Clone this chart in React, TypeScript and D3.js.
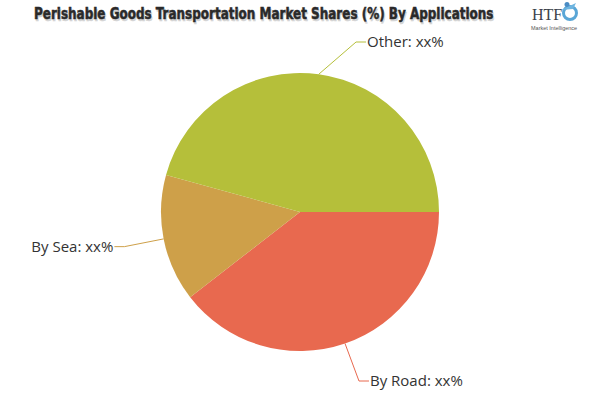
import React, { useLayoutEffect, useRef, useState } from "react";
import * as d3 from "d3";

const categories = ["By Road", "By Sea", "Other"];
const values = [39.5, 14.8, 45.7];
const labelTexts = ["By Road: xx%", "By Sea: xx%", "Other: xx%"];
const colors = ["#e8694f", "#cea049", "#b5bf3a"];
const title = "Perishable Goods Transportation Market Shares (%) By Applications";

const W = 600;
const H = 400;
const cx = 300;
const cy = 212;
const R = 139;
const labelR = R + 40;
const titleX = 34;
const titleWidth = 459;

export default function App() {
  const titleRef = useRef<SVGTextElement>(null);
  const [sx, setSx] = useState(0.8);

  useLayoutEffect(() => {
    if (titleRef.current) {
      const len = titleRef.current.getComputedTextLength();
      if (len > 0) setSx(titleWidth / len);
    }
  }, []);

  const pie = d3
    .pie<number>()
    .sort(null)
    .startAngle(Math.PI / 2)
    .endAngle(Math.PI / 2 + 2 * Math.PI)
    .value((d) => d);
  const arcs = pie(values);
  const arc = d3.arc<d3.PieArcDatum<number>>().innerRadius(0).outerRadius(R);

  return (
    <svg width={W} height={H} style={{ position: "absolute", left: 0, top: 0, background: "#fff" }}>
      <rect x={0} y={0} width={W} height={H} fill="#fff" />
      {/* title with soft shadow */}
      <g fontFamily="'DejaVu Sans Condensed', 'DejaVu Sans', sans-serif" fontWeight="bold" fontSize={16}>
        <text
          x={0}
          y={0}
          transform={`translate(${titleX + 1},20.5) scale(${sx},1)`}
          fill="#d4d4d4"
          stroke="#d4d4d4"
          strokeWidth={0.5}
          aria-hidden="true"
        >
          {title}
        </text>
        <text
          ref={titleRef}
          x={0}
          y={0}
          transform={`translate(${titleX},19) scale(${sx},1)`}
          fill="#2a2a2a"
          stroke="#2a2a2a"
          strokeWidth={0.5}
        >
          {title}
        </text>
      </g>
      {/* logo */}
      <g>
        <circle cx={570} cy={13} r={6.5} fill="none" stroke="#5aa6d6" strokeWidth={3} />
        <circle cx={567} cy={4.5} r={2.5} fill="#4a8cc4" />
        <path d="M561,10 L576,3 L573,9 Z" fill="#6fb5e0" />
        <text x={532} y={20} fontFamily="'Liberation Serif', serif" fontSize={16} fill="#3a3f4a">
          HTF
        </text>
        <text x={531} y={30} fontFamily="'Liberation Sans', sans-serif" fontSize={5.5} fill="#555">
          Market Intelligence
        </text>
      </g>
      {/* slices */}
      <g transform={`translate(${cx},${cy})`}>
        {arcs.map((a, i) => (
          <path key={categories[i]} d={arc(a) || ""} fill={colors[i]} />
        ))}
      </g>
      {/* labels */}
      {arcs.map((a, i) => {
        const mid = (a.startAngle + a.endAngle) / 2;
        const px = cx + R * Math.sin(mid);
        const py = cy - R * Math.cos(mid);
        let ey = cy - labelR * Math.cos(mid);
        ey = Math.max(42, Math.min(H - 19, ey));
        const side = Math.sin(mid) >= 0 ? 1 : -1;
        const dy = ey - cy;
        const ex = cx + side * Math.sqrt(Math.max(0, labelR * labelR - dy * dy));
        const hx = ex + side * 10;
        return (
          <g key={"lab" + i}>
            <polyline
              points={`${px},${py} ${ex},${ey} ${hx},${ey}`}
              fill="none"
              stroke={colors[i]}
              strokeWidth={1}
            />
            <text
              x={hx + side * 1}
              y={ey}
              dy="0.35em"
              textAnchor={side > 0 ? "start" : "end"}
              fontFamily="'Open Sans', sans-serif"
              fontSize={15}
              fill="#333"
            >
              {labelTexts[i]}
            </text>
          </g>
        );
      })}
    </svg>
  );
}
